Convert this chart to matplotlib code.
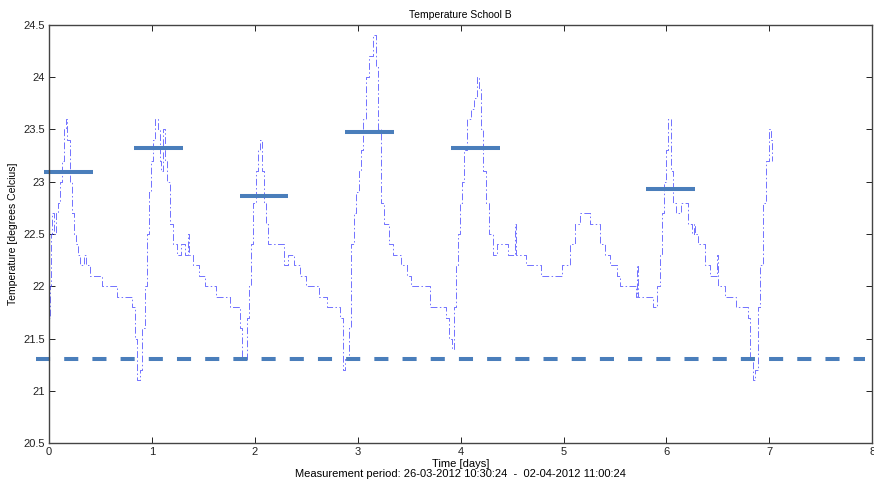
import matplotlib.pyplot as plt

plt.rcParams['font.family'] = ['Liberation Sans', 'DejaVu Sans']

# temperature readings (days since start, degrees C)
days = [0.00, 0.005, 0.01, 0.02, 0.03, 0.05, 0.07, 0.09, 0.11, 0.13, 0.15, 0.165,
        0.18, 0.20, 0.22, 0.24, 0.26, 0.28, 0.30, 0.34, 0.36, 0.40, 0.46, 0.52,
        0.60, 0.66, 0.78, 0.81, 0.84, 0.86, 0.885, 0.905, 0.93, 0.95, 0.97, 0.99,
        1.01, 1.035, 1.055, 1.075, 1.09, 1.11, 1.13, 1.15, 1.18, 1.21, 1.24, 1.28,
        1.32, 1.35, 1.36, 1.40, 1.46, 1.52, 1.58, 1.62, 1.70, 1.76, 1.82, 1.855,
        1.875, 1.90, 1.92, 1.94, 1.96, 1.985, 2.01, 2.035, 2.05, 2.07, 2.09, 2.11,
        2.13, 2.20, 2.26, 2.28, 2.32, 2.36, 2.38, 2.44, 2.50, 2.56, 2.62, 2.70,
        2.80, 2.83, 2.855, 2.875, 2.895, 2.915, 2.935, 2.96, 2.985, 3.01, 3.03,
        3.05, 3.08, 3.11, 3.15, 3.175, 3.20, 3.225, 3.26, 3.30, 3.34, 3.38, 3.42,
        3.48, 3.52, 3.60, 3.66, 3.70, 3.80, 3.86, 3.89, 3.915, 3.935, 3.955, 3.97,
        3.99, 4.01, 4.035, 4.06, 4.10, 4.13, 4.16, 4.18, 4.20, 4.22, 4.25, 4.28,
        4.31, 4.35, 4.40, 4.46, 4.53, 4.54, 4.64, 4.78, 4.87, 4.99, 5.06, 5.11,
        5.16, 5.23, 5.26, 5.35, 5.40, 5.45, 5.52, 5.55, 5.68, 5.70, 5.71, 5.72,
        5.87, 5.91, 5.94, 5.96, 5.98, 6.00, 6.02, 6.04, 6.06, 6.09, 6.14, 6.21,
        6.25, 6.27, 6.28, 6.31, 6.37, 6.42, 6.48, 6.49, 6.50, 6.57, 6.68, 6.79,
        6.81, 6.84, 6.86, 6.89, 6.91, 6.94, 6.97, 7.00, 7.02, 7.03]
temps = [20.6, 21.7, 22.0, 22.5, 22.7, 22.5, 22.7, 22.8, 23.0, 23.2, 23.5, 23.6,
         23.4, 23.0, 22.7, 22.5, 22.4, 22.3, 22.2, 22.3, 22.2, 22.1, 22.1, 22.0,
         22.0, 21.9, 21.9, 21.8, 21.5, 21.1, 21.2, 21.6, 22.0, 22.5, 22.9, 23.2,
         23.4, 23.6, 23.5, 23.2, 23.1, 23.5, 23.2, 23.0, 22.6, 22.4, 22.3, 22.4,
         22.3, 22.5, 22.3, 22.2, 22.1, 22.0, 22.0, 21.9, 21.9, 21.8, 21.8, 21.6,
         21.3, 21.3, 21.7, 22.0, 22.4, 22.8, 23.1, 23.3, 23.4, 23.1, 22.8, 22.6,
         22.4, 22.4, 22.4, 22.2, 22.3, 22.3, 22.2, 22.1, 22.0, 22.0, 21.9, 21.8,
         21.8, 21.7, 21.2, 21.3, 21.3, 21.6, 22.4, 22.7, 22.9, 23.1, 23.3,
         23.6, 24.0, 24.2, 24.4, 24.1, 23.5, 22.8, 22.6, 22.4, 22.3, 22.3, 22.2,
         22.1, 22.0, 22.0, 22.0, 21.8, 21.8, 21.7, 21.5, 21.4, 21.8, 22.2, 22.5,
         22.8, 23.0, 23.3, 23.6, 23.7, 23.8, 24.0, 23.9, 23.5, 23.1, 22.8, 22.5,
         22.3, 22.4, 22.4, 22.3, 22.6, 22.3, 22.2, 22.1, 22.1, 22.2, 22.4, 22.6,
         22.7, 22.7, 22.6, 22.4, 22.3, 22.2, 22.1, 22.0, 22.0, 21.9, 22.2, 21.9,
         21.8, 22.0, 22.3, 22.7, 23.0, 23.3, 23.6, 23.1, 22.8, 22.7, 22.8, 22.6,
         22.5, 22.6, 22.5, 22.4, 22.2, 22.1, 22.1, 22.3, 22.0, 21.9, 21.8, 21.7,
         21.3, 21.1, 21.2, 21.8, 22.2, 22.8, 23.2, 23.5, 23.4, 23.2]

# daily peak means (thick bars): centre day, half width, level
peak_centres = [0.19, 1.065, 2.09, 3.115, 4.145, 6.04]
peak_levels = [23.09, 23.32, 22.86, 23.48, 23.32, 22.93]
peak_halfwidth = 0.235

# lower threshold (dashed line)
threshold = 21.3
threshold_span = [-0.13, 7.93]

fig = plt.figure(figsize=(8.74, 4.88), dpi=100)
ax = fig.add_axes([0.056, 0.092, 0.942, 0.857])

ax.plot(days, temps, color=(0.3, 0.3, 1.0), lw=0.7, linestyle=(0, (7, 2.5, 1.5, 2.5)),
        drawstyle='steps-post', alpha=0.8)

bar_col = '#4a7ebb'
for c, lvl in zip(peak_centres, peak_levels):
    ax.plot([c - peak_halfwidth, c + peak_halfwidth], [lvl, lvl], color=bar_col,
            lw=2.9, solid_capstyle='butt', clip_on=False)

ax.plot(threshold_span, [threshold, threshold], color=bar_col, lw=2.9,
        linestyle=(0, (3.5, 3.5)), clip_on=False)

ax.set_xlim(0, 8)
ax.set_ylim(20.5, 24.5)
ax.set_xticks(range(0, 9))
yt = [20.5, 21, 21.5, 22, 22.5, 23, 23.5, 24, 24.5]
ax.set_yticks(yt)
ax.set_yticklabels(['20.5', '21', '21.5', '22', '22.5', '23', '23.5', '24', '24.5'])
ax.tick_params(direction='in', length=4, width=0.7, labelsize=8, top=True, right=True,
               colors='#222222', pad=3)
for s in ax.spines.values():
    s.set_linewidth(1.0)
    s.set_color('#444444')

ax.set_title('Temperature School B', fontsize=7.5, pad=5)
ax.set_xlabel('Time [days]\nMeasurement period: 26-03-2012 10:30:24  -  02-04-2012 11:00:24',
              fontsize=8, labelpad=1, linespacing=1.1)
ax.set_ylabel('Temperature [degrees Celcius]', fontsize=7.5, labelpad=4)

fig.savefig('out.png', dpi=100)
